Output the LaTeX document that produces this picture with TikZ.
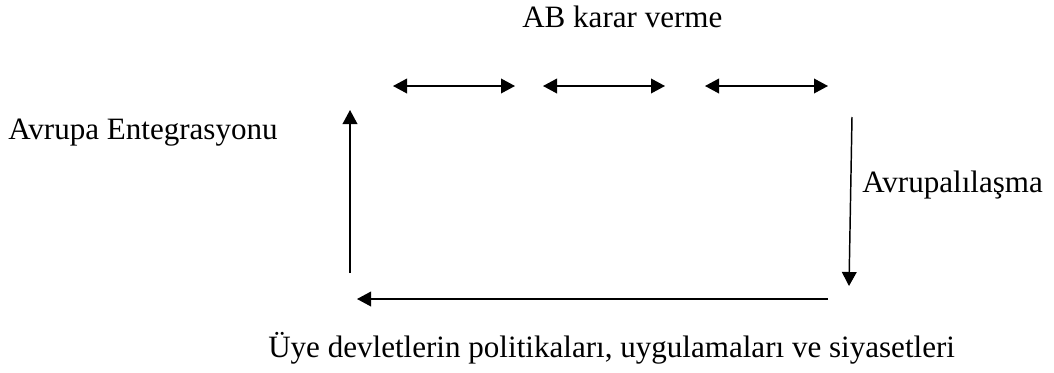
\documentclass[tikz,border=0pt]{standalone}
\usepackage{fontspec}
\setmainfont{Liberation Serif}
\usetikzlibrary{arrows.meta}
\begin{document}
\begin{tikzpicture}[x=0.75pt,y=-0.75pt,
  conn/.style={line width=1.1pt,-{Triangle[length=10.5pt,width=11pt]}},
  dconn/.style={line width=1.1pt,{Triangle[length=10.5pt,width=11pt]}-{Triangle[length=10.5pt,width=11pt]}},
  lbl/.style={font=\fontsize{23.3}{27}\selectfont,inner sep=0pt,anchor=base west}]
\useasboundingbox (0,0) rectangle (1054,372);
\node[lbl] (top) at (522,27) {AB karar verme};
\node[lbl] (left) at (8,139) {Avrupa Entegrasyonu};
\node[lbl] (right) at (862,192) {Avrupalılaşma};
\node[lbl] (bottom) at (268,357) {Üye devletlerin politikaları, uygulamaları ve siyasetleri};
\coordinate (a1) at (393,86); \coordinate (b1) at (515,86);
\coordinate (a2) at (543,86); \coordinate (b2) at (665,86);
\coordinate (a3) at (705,86); \coordinate (b3) at (828,86);
\coordinate (lb) at (350,273); \coordinate (lt) at (350,110);
\coordinate (rt) at (852,117); \coordinate (rb) at (849,286);
\coordinate (br) at (828,299); \coordinate (bl) at (357,299);
\draw[dconn] (a1) -- (b1);
\draw[dconn] (a2) -- (b2);
\draw[dconn] (a3) -- (b3);
\draw[conn] (lb) -- (lt);
\draw[conn] (rt) -- (rb);
\draw[conn] (br) -- (bl);
\end{tikzpicture}
\end{document}
